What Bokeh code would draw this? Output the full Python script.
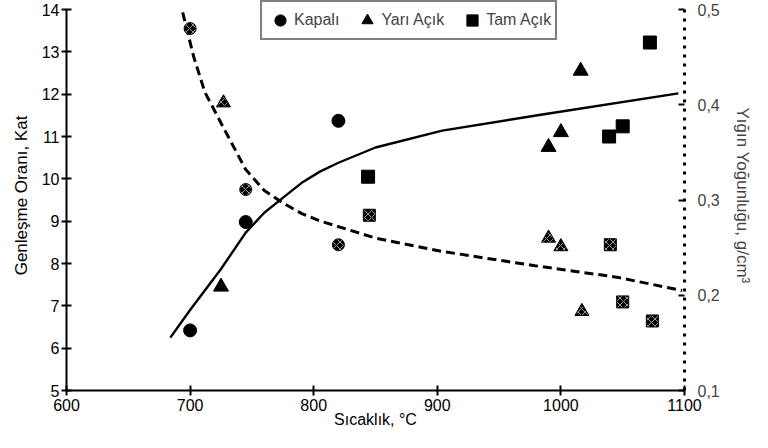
from bokeh.plotting import figure
from bokeh.models import Range1d, LinearAxis, FixedTicker, CustomJSTickFormatter, Legend, LegendItem
from bokeh.embed import file_html
from bokeh.resources import INLINE

# ---- data ----
x_ticks = [600, 700, 800, 900, 1000, 1100]
left_ticks = [5, 6, 7, 8, 9, 10, 11, 12, 13, 14]
right_ticks = [0.1, 0.2, 0.3, 0.4, 0.5]

# Genleşme oranı (left axis), filled markers
kapali_x = [700, 745, 820]
kapali_ratio = [6.42, 8.98, 11.37]
yari_x = [725, 990, 1000, 1016]
yari_ratio = [7.45, 10.75, 11.1, 12.55]
tam_x = [844, 1039, 1050, 1072]
tam_ratio = [10.05, 11.0, 11.24, 13.22]

# Yığın yoğunluğu (right axis), hatched markers
kapali_dx = [700, 745, 820]
kapali_density = [0.48, 0.311, 0.253]
yari_dx = [727, 990, 1000, 1017]
yari_density = [0.402, 0.26, 0.251, 0.183]
tam_dx = [845, 1040, 1050, 1074]
tam_density = [0.284, 0.253, 0.193, 0.173]

# trend curves
ratio_curve_x = [684, 700, 725, 745, 760, 775, 790, 805, 820, 850, 904, 985, 1095]
ratio_curve_y = [6.25, 6.9, 7.87, 8.73, 9.2, 9.55, 9.9, 10.17, 10.38, 10.74, 11.14, 11.52, 12.02]
dens_curve_x = [694, 703, 712, 729, 745, 760, 775, 790, 805, 850, 904, 979, 1045, 1098]
dens_curve_y = [0.497, 0.45, 0.413, 0.371, 0.332, 0.31, 0.297, 0.286, 0.278, 0.26, 0.246, 0.231, 0.219, 0.205]

FONT = "Liberation Sans"

p = figure(output_backend="svg", toolbar_location=None,
           frame_width=618, frame_height=390,
           min_border_left=66, min_border_right=68, min_border_top=0, min_border_bottom=42,
           x_range=Range1d(600, 1100), y_range=Range1d(5, 14 + 9 * 9 / 381),
           background_fill_color="white", border_fill_color="white")
p.outline_line_color = None
p.grid.visible = False
p.extra_y_ranges = {"dens": Range1d(0.1, 0.5 + 0.4 * 9 / 381)}

# axes styling
for ax in (p.xaxis[0], p.yaxis[0]):
    ax.axis_line_width = 2
    ax.axis_line_color = "black"
    ax.major_tick_line_width = 2
    ax.major_tick_in = 5
    ax.major_tick_out = 5
    ax.minor_tick_line_color = None
    ax.major_label_text_font = FONT
    ax.major_label_text_font_size = "16px"
    ax.major_label_text_color = "black"
    ax.axis_label_text_font = FONT
    ax.axis_label_text_font_style = "normal"
    ax.axis_label_text_color = "black"

p.xaxis.ticker = FixedTicker(ticks=x_ticks)
p.xaxis.bounds = (600, 1100)
p.yaxis.ticker = FixedTicker(ticks=left_ticks)
p.yaxis.bounds = (5, 14)
p.xaxis.axis_label = "Sıcaklık, °C"
p.xaxis.axis_label_text_font_size = "16px"
p.xaxis.axis_label_standoff = -3
p.xaxis.major_label_standoff = 3
p.yaxis.axis_label = "Genleşme Oranı, Kat"
p.yaxis.axis_label_text_font_size = "17px"
p.yaxis.axis_label_standoff = 8
p.yaxis.major_label_standoff = 2

raxis = LinearAxis(y_range_name="dens", ticker=FixedTicker(ticks=right_ticks), bounds=(0.1, 0.5),
                   formatter=CustomJSTickFormatter(code="return tick.toFixed(1).replace('.', ',');"))
raxis.axis_line_width = 3
raxis.axis_line_dash = "3 6"
raxis.axis_line_color = "black"
raxis.major_tick_in = 6
raxis.major_tick_out = 0
raxis.major_tick_line_width = 2
raxis.minor_tick_line_color = None
raxis.major_label_text_font = FONT
raxis.major_label_text_font_size = "16px"
raxis.major_label_standoff = 13
raxis.axis_label = "Yığın Yoğunluğu, g/cm³"
raxis.axis_label_text_font = FONT
raxis.axis_label_text_font_size = "17px"
raxis.axis_label_text_font_style = "normal"
raxis.axis_label_standoff = 10
p.add_layout(raxis, "right")

# curves
p.line(ratio_curve_x, ratio_curve_y, line_color="black", line_width=2.4)
p.line(dens_curve_x, dens_curve_y, y_range_name="dens", line_color="black",
       line_width=3, line_dash="9 5")

# filled markers (expansion ratio)
r_k = p.scatter(kapali_x, kapali_ratio, marker="circle", size=13, fill_color="black", line_color="black")
r_y = p.scatter(yari_x, yari_ratio, marker="triangle", size=15, fill_color="black", line_color="black")
r_t = p.scatter(tam_x, tam_ratio, marker="square", size=13, fill_color="black", line_color="black")

# hatched markers (bulk density)
hatch = dict(fill_color="black", line_color="black", hatch_pattern="x",
             hatch_color="white", hatch_scale=7, hatch_weight=1, hatch_alpha=0.6)
p.scatter(kapali_dx, kapali_density, y_range_name="dens", marker="circle", size=12, **hatch)
p.scatter(yari_dx, yari_density, y_range_name="dens", marker="triangle", size=14, **hatch)
p.scatter(tam_dx, tam_density, y_range_name="dens", marker="square", size=12, **hatch)

legend = Legend(items=[LegendItem(label="Kapalı", renderers=[r_k]),
                       LegendItem(label="Yarı Açık", renderers=[r_y]),
                       LegendItem(label="Tam Açık", renderers=[r_t])],
                orientation="horizontal", location=(194, 350),
                label_text_font=FONT, label_text_font_size="16px",
                label_standoff=-9, glyph_width=28, glyph_height=28, spacing=14,
                padding=4, margin=0, border_line_color="black", border_line_width=2,
                background_fill_alpha=1)
p.add_layout(legend, "center")

open("out.html", "w").write(file_html(p, INLINE))
